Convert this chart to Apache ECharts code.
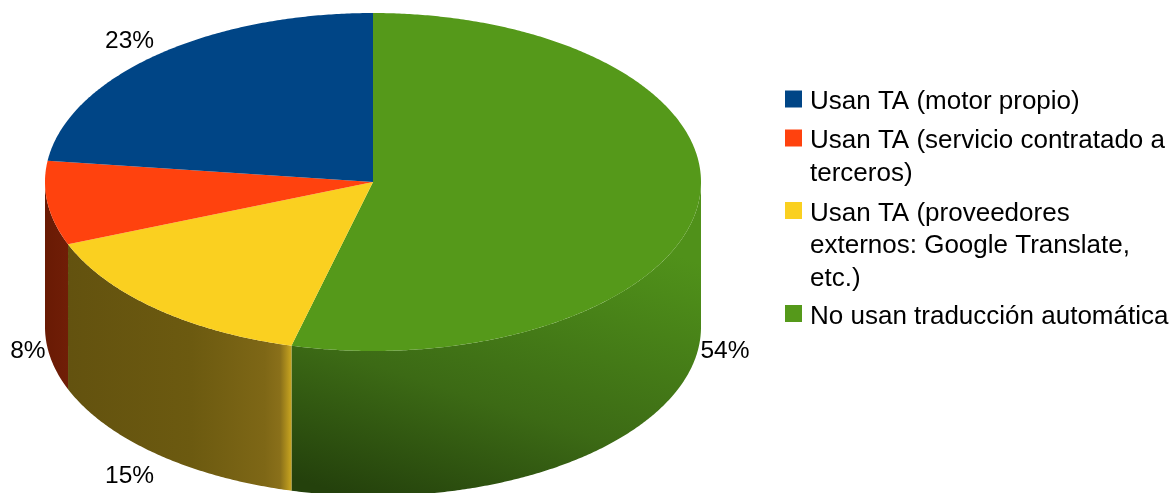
<!DOCTYPE html>
<html>
<head>
<meta charset="utf-8">
<style>html,body{margin:0;padding:0;background:#fff}#chart{width:1171px;height:493px}</style>
<script src="https://cdn.jsdelivr.net/npm/echarts@6/dist/echarts.min.js"></script>
</head>
<body>
<div id="chart"></div>
<script>
// Slices run clockwise from twelve o'clock.
const categories = [
  'No usan traducción automática',
  'Usan TA (proveedores externos: Google Translate, etc.)',
  'Usan TA (servicio contratado a terceros)',
  'Usan TA (motor propio)'
];
const values = [54, 15, 8, 23];
const legendLines = [
  ['No usan traducción automática'],
  ['Usan TA (proveedores', 'externos: Google Translate,', 'etc.)'],
  ['Usan TA (servicio contratado a', 'terceros)'],
  ['Usan TA (motor propio)']
];
const legendSwatchY = [315.5, 212.5, 140, 101];
const topColors = ['#55991a', '#fad020', '#ff420e', '#004586'];

// Geometry of the drum.
const disc = { cx: 373, cy: 182, rx: 328, ry: 169, depth: 145 };
const FONT = '"Liberation Sans", Arial, sans-serif';
const LABEL_SIZE = 24.5;
const LEGEND_SIZE = 26;
const LINE_H = 32.5;
const LEGEND_TEXT_DROP = 6;

const total = values.reduce((a, b) => a + b, 0);
const toAngle = v => echarts.number.linearMap(v, [0, total], [0, Math.PI * 2]);
const rimPoint = a => [disc.cx + disc.rx * Math.sin(a), disc.cy - disc.ry * Math.cos(a)];

function arcPoints(a0, a1) {
  const n = Math.max(2, Math.ceil((a1 - a0) / 0.008));
  const pts = [];
  for (let i = 0; i <= n; i++) pts.push(rimPoint(a0 + (a1 - a0) * i / n));
  return pts;
}

function grad(x, y, x2, y2, stops) {
  return new echarts.graphic.LinearGradient(x, y, x2, y2,
    stops.map(s => ({ offset: s[0], color: s[1] })));
}

// Shading of the visible wall of each slice.
const wallFills = [
  () => grad(0.14, 1, 0.39, 0, [[0, '#24410c'], [0.4, '#3c6a15'], [0.88, '#4c8a19'], [1, '#50911a']]),
  () => grad(0, 0, 1, 0, [[0, '#63520f'], [0.55, '#6c5a10'], [0.88, '#7e6716'], [0.95, '#8a701a'], [1, '#c9a51f']]),
  () => grad(0, 0, 1, 0, [[0, '#691a04'], [1, '#701e07']]),
  () => '#002344'
];

function sliceRenderer(index) {
  return function (params, api) {
    const value = api.value(0);
    const before = values.slice(0, index).reduce((a, b) => a + b, 0);
    const a0 = toAngle(before);
    const a1 = toAngle(before + value);
    const mid = (a0 + a1) / 2;
    const children = [];

    // Wall: only the part on the near half of the rim can be seen.
    const w0 = Math.max(a0, Math.PI / 2);
    const w1 = Math.min(a1, Math.PI * 1.5);
    if (w1 > w0) {
      const upper = arcPoints(w0, w1);
      const lower = upper.slice().reverse().map(p => [p[0], p[1] + disc.depth]);
      children.push({
        type: 'polygon', z2: 1,
        shape: { points: upper.concat(lower) },
        style: { fill: wallFills[index]() }
      });
    }

    // Top face.
    children.push({
      type: 'polygon', z2: 2,
      shape: { points: [[disc.cx, disc.cy]].concat(arcPoints(a0, a1)) },
      style: { fill: topColors[index] }
    });

    // Percentage label just outside the rim; near-side labels sit below the wall.
    const p = rimPoint(mid);
    const near = Math.cos(mid) < 0;
    const onLeft = Math.sin(mid) < 0;
    const level = Math.abs(Math.cos(mid)) < 0.3;
    children.push({
      type: 'text', z2: 3,
      style: {
        text: value + '%',
        x: p[0] + (onLeft ? -2 : 2),
        y: p[1] + (near ? disc.depth : 0) + (level ? 3 : near ? 10 : -1),
        align: onLeft ? 'right' : 'left',
        verticalAlign: level ? 'middle' : near ? 'top' : 'bottom',
        fill: '#000',
        font: LABEL_SIZE + 'px ' + FONT
      }
    });
    return { type: 'group', children };
  };
}

// One legend block per category so each swatch lines up with its first text line:
// blank lines above keep the first line at the vertical middle of the block, and a
// thin spacer row drops the text slightly below the swatch centre.
const legends = categories.map((name, i) => {
  const lines = legendLines[i];
  const blanks = lines.length - 1;
  const rows = lines.length + blanks;
  const body = new Array(blanks).fill(' ').concat(lines).map(l => '{t|' + l + '}');
  return {
    data: [name],
    orient: 'vertical',
    left: 785,
    top: legendSwatchY[i] - (rows * LINE_H + LEGEND_TEXT_DROP) / 2,
    padding: 0,
    itemWidth: 17,
    itemHeight: 17,
    selectedMode: false,
    icon: 'rect',
    formatter: () => ['{g| }'].concat(body).join('\n'),
    textStyle: {
      color: '#000',
      fontFamily: FONT,
      padding: [0, 0, 0, 3],
      rich: {
        t: { color: '#000', fontFamily: FONT, fontSize: LEGEND_SIZE, lineHeight: LINE_H },
        g: { fontSize: 2, lineHeight: LEGEND_TEXT_DROP }
      }
    }
  };
});

const chart = echarts.init(document.getElementById('chart'), null, { renderer: 'canvas' });
chart.setOption({
  animation: false,
  backgroundColor: '#fff',
  legend: legends,
  series: categories.map((name, i) => ({
    type: 'custom',
    name,
    coordinateSystem: 'none',
    color: topColors[i],
    itemStyle: { color: topColors[i] },
    silent: true,
    data: [[values[i]]],
    renderItem: sliceRenderer(i)
  }))
});
</script>
</body>
</html>
